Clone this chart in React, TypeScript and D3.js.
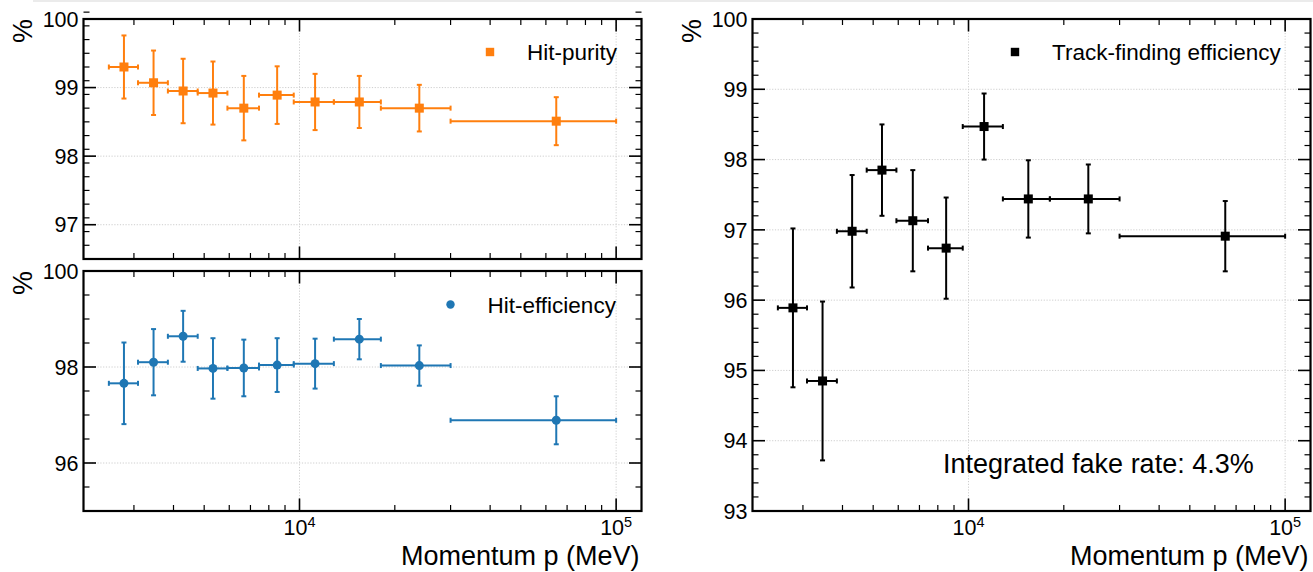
import React from "react";
import * as d3 from "d3";

// ---------- data ----------
const binEdges = [2500, 3090, 3840, 4770, 5920, 7450, 9590, 12840, 18070, 30000, 100000];
const binCenters = [2790, 3460, 4290, 5330, 6670, 8500, 11200, 15450, 23900, 64700];

const purityValues = [99.3, 99.07, 98.95, 98.92, 98.7, 98.89, 98.79, 98.79, 98.7, 98.51];
const purityErrors = [0.46, 0.47, 0.47, 0.46, 0.47, 0.42, 0.41, 0.38, 0.34, 0.35];

const hitEffValues = [97.66, 98.1, 98.64, 97.97, 97.98, 98.04, 98.07, 98.58, 98.03, 96.89];
const hitEffErrors = [0.85, 0.69, 0.53, 0.63, 0.59, 0.56, 0.52, 0.42, 0.42, 0.5];

const trackEffValues = [95.89, 94.85, 96.98, 97.85, 97.13, 96.74, 98.47, 97.44, 97.44, 96.91];
const trackEffErrors = [1.13, 1.13, 0.8, 0.65, 0.72, 0.72, 0.47, 0.55, 0.49, 0.5];

const xMajorTicks = [1e4, 1e5];
const xMajorExponents = ["4", "5"];

const purityYMajor = [97, 98, 99, 100];
const hitEffYMajor = [96, 98, 100];
const trackYMajor = [93, 94, 95, 96, 97, 98, 99, 100];

const xLabelText = "Momentum p (MeV)";
const yLabelText = "%";
const fakeRateText = "Integrated fake rate: 4.3%";

// ---------- style ----------
const FONT = "'Liberation Sans', Arial, Helvetica, sans-serif";
const ORANGE = "#ff7f0e";
const BLUE = "#1f77b4";
const BLACK = "#000000";

const logLo = Math.log10(binEdges[0]);
const logHi = Math.log10(binEdges[binEdges.length - 1]);
const logMargin = 0.05 * (logHi - logLo);
const xDomain: [number, number] = [Math.pow(10, logLo - logMargin), Math.pow(10, logHi + logMargin)];

const xMinorTicks: number[] = [];
[1e3, 1e4, 1e5].forEach((d) => {
  for (let k = 2; k <= 9; k++) {
    const v = d * k;
    if (v > xDomain[0] && v < xDomain[1]) xMinorTicks.push(v);
  }
});

function minorTicks(domain: [number, number], step: number, majors: number[]) {
  const out: number[] = [];
  const n = Math.round((domain[1] - domain[0]) / step);
  for (let i = 0; i <= n; i++) {
    const v = +(domain[0] + i * step).toFixed(4);
    if (!majors.some((m) => Math.abs(m - v) < 1e-6)) out.push(v);
  }
  return out;
}

type PanelProps = {
  left: number;
  right: number;
  top: number;
  bottom: number;
  yDomain: [number, number];
  yMajor: number[];
  yMinorStep: number;
  values: number[];
  errors: number[];
  color: string;
  marker: "square" | "circle";
  legend: string;
  legendTextX: number;
  legendMarkerX: number;
  legendY: number;
  showXTickLabels: boolean;
  showXLabel: boolean;
  yLabelX: number;
  children?: React.ReactNode;
};

const MAJOR_LEN = 12.5;
const MINOR_LEN = 6;

function Panel(p: PanelProps) {
  const x = d3.scaleLog().domain(xDomain).range([p.left, p.right]);
  const y = d3.scaleLinear().domain(p.yDomain).range([p.bottom, p.top]);
  const yMinor = minorTicks(p.yDomain, p.yMinorStep, p.yMajor);
  const gridY = p.yMajor.filter((v) => v > p.yDomain[0] && v < p.yDomain[1]);
  const cap = 2.5;
  const ms = 9;

  return (
    <g>
      {/* grid */}
      {xMajorTicks.map((t) => (
        <line key={"gx" + t} x1={x(t)} x2={x(t)} y1={p.top} y2={p.bottom} stroke="#c8c8c8" strokeWidth={0.9} strokeDasharray="1.2,1.6" />
      ))}
      {gridY.map((t) => (
        <line key={"gy" + t} x1={p.left} x2={p.right} y1={y(t)} y2={y(t)} stroke="#c8c8c8" strokeWidth={0.9} strokeDasharray="1.2,1.6" />
      ))}

      {/* ticks x */}
      {xMajorTicks.map((t) => (
        <g key={"tx" + t}>
          <line x1={x(t)} x2={x(t)} y1={p.bottom} y2={p.bottom - MAJOR_LEN} stroke="#000" strokeWidth={1.6} />
          <line x1={x(t)} x2={x(t)} y1={p.top} y2={p.top + MAJOR_LEN} stroke="#000" strokeWidth={1.6} />
        </g>
      ))}
      {xMinorTicks.map((t) => (
        <g key={"mx" + t}>
          <line x1={x(t)} x2={x(t)} y1={p.bottom} y2={p.bottom - MINOR_LEN} stroke="#000" strokeWidth={1.2} />
          <line x1={x(t)} x2={x(t)} y1={p.top} y2={p.top + MINOR_LEN} stroke="#000" strokeWidth={1.2} />
        </g>
      ))}
      {/* ticks y */}
      {p.yMajor.map((t) => (
        <g key={"ty" + t}>
          <line x1={p.left} x2={p.left + MAJOR_LEN} y1={y(t)} y2={y(t)} stroke="#000" strokeWidth={1.6} />
          <line x1={p.right} x2={p.right - MAJOR_LEN} y1={y(t)} y2={y(t)} stroke="#000" strokeWidth={1.6} />
          <text x={p.left - 5} y={y(t)} dy="0.36em" textAnchor="end" fontSize={21.5} fontFamily={FONT}>
            {t}
          </text>
        </g>
      ))}
      {yMinor.map((t) => (
        <g key={"my" + t}>
          <line x1={p.left} x2={p.left + MINOR_LEN} y1={y(t)} y2={y(t)} stroke="#000" strokeWidth={1.2} />
          <line x1={p.right} x2={p.right - MINOR_LEN} y1={y(t)} y2={y(t)} stroke="#000" strokeWidth={1.2} />
        </g>
      ))}

      {/* data */}
      {p.values.map((v, i) => {
        const cx = x(binCenters[i]);
        const cy = y(v);
        const xl = x(binEdges[i]);
        const xr = x(binEdges[i + 1]);
        const yt = y(v + p.errors[i]);
        const yb = y(v - p.errors[i]);
        return (
          <g key={"d" + i} stroke={p.color} strokeWidth={2} fill={p.color}>
            <line x1={xl} x2={xr} y1={cy} y2={cy} />
            <line x1={cx} x2={cx} y1={yt} y2={yb} />
            <line x1={xl} x2={xl} y1={cy - cap} y2={cy + cap} />
            <line x1={xr} x2={xr} y1={cy - cap} y2={cy + cap} />
            <line x1={cx - cap} x2={cx + cap} y1={yt} y2={yt} />
            <line x1={cx - cap} x2={cx + cap} y1={yb} y2={yb} />
            {p.marker === "square" ? (
              <rect x={cx - ms / 2} y={cy - ms / 2} width={ms} height={ms} stroke="none" />
            ) : (
              <circle cx={cx} cy={cy} r={ms / 2} stroke="none" />
            )}
          </g>
        );
      })}

      {/* frame */}
      <rect x={p.left} y={p.top} width={p.right - p.left} height={p.bottom - p.top} fill="none" stroke="#000" strokeWidth={2.2} />

      {/* legend */}
      {p.marker === "square" ? (
        <rect x={p.legendMarkerX - 4.2} y={p.legendY - 4.2} width={8.4} height={8.4} fill={p.color} />
      ) : (
        <circle cx={p.legendMarkerX} cy={p.legendY} r={4.2} fill={p.color} />
      )}
      <text x={p.legendTextX} y={p.legendY} dy="0.36em" fontSize={22.5} fontFamily={FONT}>
        {p.legend}
      </text>

      {/* x tick labels */}
      {p.showXTickLabels &&
        xMajorTicks.map((t, i) => (
          <text key={"lx" + t} x={x(t)} y={535} textAnchor="middle" fontSize={21.5} fontFamily={FONT}>
            10
            <tspan fontSize={14.5} dy={-8.5}>
              {xMajorExponents[i]}
            </tspan>
          </text>
        ))}
      {p.showXLabel && (
        <text x={p.right - 2} y={565} textAnchor="end" fontSize={27} fontFamily={FONT}>
          {xLabelText}
        </text>
      )}
      {/* y label */}
      <text
        transform={`translate(${p.yLabelX},${p.top}) rotate(-90)`}
        textAnchor="end"
        fontSize={27}
        fontFamily={FONT}
      >
        {yLabelText}
      </text>
      {p.children}
    </g>
  );
}

export default function App() {
  return (
    <svg
      width={1313}
      height={572}
      viewBox="0 0 1313 572"
      style={{ position: "absolute", left: 0, top: 0, background: "#fff" }}
    >
      <rect x={0} y={0} width={1313} height={572} fill="#fff" />
      <rect x={33} y={0} width={1280} height={2} fill="#ebebeb" />
      <Panel
        left={83.5}
        right={641.5}
        top={19}
        bottom={259}
        yDomain={[96.5, 100]}
        yMajor={purityYMajor}
        yMinorStep={0.2}
        values={purityValues}
        errors={purityErrors}
        color={ORANGE}
        marker="square"
        legend="Hit-purity"
        legendTextX={527}
        legendMarkerX={490}
        legendY={52}
        showXTickLabels={false}
        showXLabel={false}
        yLabelX={32}
      />
      <Panel
        left={83.5}
        right={641.5}
        top={271}
        bottom={511}
        yDomain={[95, 100]}
        yMajor={hitEffYMajor}
        yMinorStep={0.5}
        values={hitEffValues}
        errors={hitEffErrors}
        color={BLUE}
        marker="circle"
        legend="Hit-efficiency"
        legendTextX={487.5}
        legendMarkerX={450.5}
        legendY={304.5}
        showXTickLabels={true}
        showXLabel={true}
        yLabelX={32}
      />
      <Panel
        left={752.5}
        right={1310.5}
        top={19}
        bottom={511}
        yDomain={[93, 100]}
        yMajor={trackYMajor}
        yMinorStep={0.2}
        values={trackEffValues}
        errors={trackEffErrors}
        color={BLACK}
        marker="square"
        legend="Track-finding efficiency"
        legendTextX={1052}
        legendMarkerX={1015}
        legendY={52}
        showXTickLabels={true}
        showXLabel={true}
        yLabelX={701}
      >
        <text x={943} y={473} fontSize={27} fontFamily={FONT}>
          {fakeRateText}
        </text>
      </Panel>
    </svg>
  );
}
